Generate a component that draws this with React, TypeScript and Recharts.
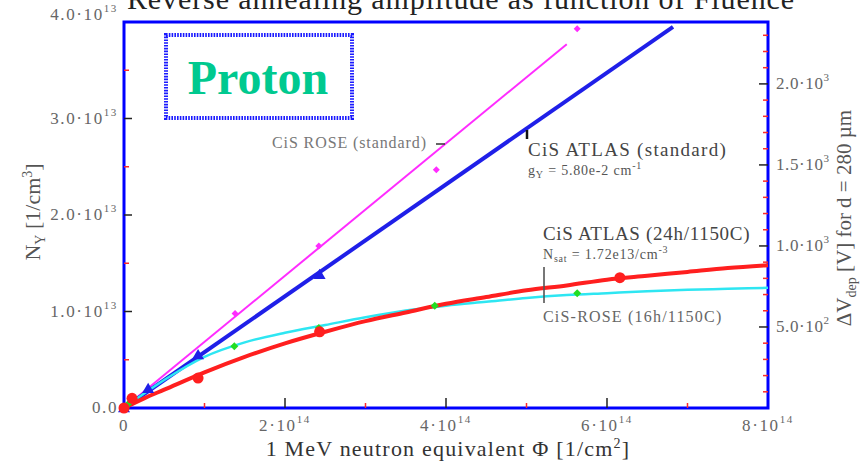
import { ComposedChart, Line, Scatter, XAxis, YAxis, ReferenceArea } from "recharts"

// fluence in units of 1e14 /cm², N_Y in units of 1e13 /cm³
const fitFluence = [0, 0.25, 0.5, 1, 1.5, 2, 2.5, 3, 3.5, 4, 4.5, 5, 5.5, 6, 6.5, 7, 7.5, 8]
const atlasAnnealedFit = [0, 0.1, 0.19, 0.37, 0.53, 0.67, 0.79, 0.9, 0.99, 1.08, 1.15, 1.22, 1.27, 1.33, 1.37, 1.41, 1.45, 1.48]
const roseAnnealedFit = [0, 0.15, 0.29, 0.53, 0.68, 0.78, 0.86, 0.94, 1.01, 1.06, 1.1, 1.14, 1.17, 1.19, 1.21, 1.225, 1.235, 1.245]

const roseStdFitFluence = [0, 5.5]
const roseStdFit = [0, 3.77]
const atlasStdFitFluence = [0, 6.82]
const atlasStdFit = [0, 3.95]

const roseStdFluence = [0.1, 1.38, 2.42, 3.88, 5.63]
const roseStdNy = [0.08, 0.98, 1.68, 2.47, 3.93]
const atlasStdFluence = [0, 0.3, 0.92, 2.43]
const atlasStdNy = [0, 0.2, 0.55, 1.38]
const atlasAnnFluence = [0, 0.1, 0.92, 2.43, 6.16]
const atlasAnnNy = [0, 0.1, 0.31, 0.79, 1.35]
const roseAnnFluence = [0.05, 1.37, 2.42, 3.86, 5.63]
const roseAnnNy = [0.04, 0.64, 0.83, 1.06, 1.19]

const xTicks = [0, 1, 2, 3, 4, 5, 6, 7, 8]
const xLabels: Record<number, [string, string]> = { 0: ["0", ""], 2: ["2·10", "14"], 4: ["4·10", "14"], 6: ["6·10", "14"], 8: ["8·10", "14"] }
const yTicks = [0, 0.5, 1, 1.5, 2, 2.5, 3, 3.5, 4]
const yLabels: Record<number, [string, string]> = { 0: ["0.0", ""], 1: ["1.0·10", "13"], 2: ["2.0·10", "13"], 3: ["3.0·10", "13"], 4: ["4.0·10", "13"] }
const vTicks = Array.from({ length: 23 }, (_, i) => (i + 1) * 100)
const vLabels: Record<number, [string, string]> = { 500: ["5.0·10", "2"], 1000: ["1.0·10", "3"], 1500: ["1.5·10", "3"], 2000: ["2.0·10", "3"] }
const vMax = 2382

const zip = (xs: number[], ys: number[]) => xs.map((x, i) => ({ x, y: ys[i] }))

const W = 866
const H = 462
// axes take 1px each, so the plot spans x 124..768, y 22..408
const margin = { top: 22, right: 97, bottom: 53, left: 123 }
const PLOT_LEFT = 124
const PLOT_RIGHT = 768
const PLOT_BOTTOM = 408

const SERIF = "'Liberation Serif', 'Times New Roman', serif"
const TICK_GREY = "#666"
const TICK_FONT = 17
const TICK_SPACING = 1.6

const Sup = ({ base, sup, size }: { base: string; sup: string; size: number }) => (
  <>
    <tspan>{base}</tspan>
    {sup && (
      <tspan dy={-size * 0.45} fontSize={size * 0.65}>
        {sup}
      </tspan>
    )}
  </>
)

const LeftTick = (props: any) => {
  const { y, payload } = props
  const v = payload.value
  const major = Number.isInteger(v)
  const lab = yLabels[v]
  return (
    <g>
      {v > 0 && v < 4 && (
        <line x1={PLOT_LEFT} x2={PLOT_LEFT + (major ? 8 : 5)} y1={y} y2={y} stroke={major ? "#222" : "#ff2a2a"} strokeWidth={1.5} />
      )}
      {lab && (
        <text x={PLOT_LEFT - 6} y={v === 4 ? y - 2 : y + 5} textAnchor="end" fontFamily={SERIF} fontSize={TICK_FONT} letterSpacing={TICK_SPACING} fill={TICK_GREY}>
          <Sup base={lab[0]} sup={lab[1]} size={TICK_FONT} />
        </text>
      )}
    </g>
  )
}

const BottomTick = (props: any) => {
  const { x, payload } = props
  const v = payload.value
  const major = v % 2 === 0
  const lab = xLabels[v]
  return (
    <g>
      {v > 0 && v < 8 && (
        <line x1={x} x2={x} y1={PLOT_BOTTOM} y2={PLOT_BOTTOM - (major ? 10 : 5)} stroke={major ? "#222" : "#ff2a2a"} strokeWidth={1.5} />
      )}
      {lab && (
        <text x={x} y={PLOT_BOTTOM + 23} textAnchor="middle" fontFamily={SERIF} fontSize={TICK_FONT} letterSpacing={TICK_SPACING} fill={TICK_GREY}>
          <Sup base={lab[0]} sup={lab[1]} size={TICK_FONT} />
        </text>
      )}
    </g>
  )
}

const RightTick = (props: any) => {
  const { y, payload } = props
  const v = payload.value
  const major = v % 500 === 0
  const lab = vLabels[v]
  return (
    <g>
      <line x1={PLOT_RIGHT} x2={PLOT_RIGHT - (major ? 9 : 5)} y1={y} y2={y} stroke={major ? "#222" : "#ff2a2a"} strokeWidth={1.5} />
      {lab && (
        <text x={PLOT_RIGHT + 8} y={y + 5} textAnchor="start" fontFamily={SERIF} fontSize={TICK_FONT} letterSpacing={0.6} fill={TICK_GREY}>
          <Sup base={lab[0]} sup={lab[1]} size={TICK_FONT} />
        </text>
      )}
    </g>
  )
}

const Dot = ({ cx, cy, r, fill }: any) => <circle cx={cx} cy={cy} r={r} fill={fill} />
const Diamond = ({ cx, cy, r, fill }: any) => (
  <polygon points={`${cx},${cy - r} ${cx + r},${cy} ${cx},${cy + r} ${cx - r},${cy}`} fill={fill} />
)
const Triangle = ({ cx, cy, r, fill }: any) => (
  <polygon points={`${cx},${cy - r} ${cx + r},${cy + r * 0.7} ${cx - r},${cy + r * 0.7}`} fill={fill} />
)

export default function App() {
  return (
    <div style={{ position: "relative", width: W, height: H, background: "#fff" }}>
      <style>{`body{margin:0}`}</style>
      <ComposedChart width={W} height={H} margin={margin}>
        <XAxis
          xAxisId={0}
          dataKey="x"
          type="number"
          domain={[0, 8]}
          ticks={xTicks}
          interval={0}
          height={1}
          axisLine={false}
          tickLine={false}
          tick={(p: any) => <BottomTick {...p} />}
        />
        <YAxis
          yAxisId="n"
          type="number"
          domain={[0, 4]}
          ticks={yTicks}
          interval={0}
          width={1}
          axisLine={false}
          tickLine={false}
          tick={(p: any) => <LeftTick {...p} />}
        />
        <YAxis
          yAxisId="v"
          orientation="right"
          type="number"
          domain={[0, vMax]}
          allowDataOverflow
          ticks={vTicks}
          interval={0}
          width={1}
          axisLine={false}
          tickLine={false}
          tick={(p: any) => <RightTick {...p} />}
        />

        <Line yAxisId="n" data={zip(roseStdFitFluence, roseStdFit)} dataKey="y" type="linear" stroke="#ff2cff" strokeWidth={2} dot={false} isAnimationActive={false} />
        <Line yAxisId="n" data={zip(atlasStdFitFluence, atlasStdFit)} dataKey="y" type="linear" stroke="#1f1fe8" strokeWidth={4} dot={false} isAnimationActive={false} />
        <Line yAxisId="n" data={zip(fitFluence, roseAnnealedFit)} dataKey="y" type="monotone" stroke="#2ee6f2" strokeWidth={2.5} dot={false} isAnimationActive={false} />
        <Line yAxisId="n" data={zip(fitFluence, atlasAnnealedFit)} dataKey="y" type="monotone" stroke="#ff1f1f" strokeWidth={4} dot={false} isAnimationActive={false} />

        <Scatter yAxisId="n" data={zip(roseStdFluence, roseStdNy)} dataKey="y" isAnimationActive={false} shape={(p: any) => <Diamond cx={p.cx} cy={p.cy} r={3.5} fill="#ff2cff" />} />
        <Scatter yAxisId="n" data={zip(atlasStdFluence, atlasStdNy)} dataKey="y" isAnimationActive={false} shape={(p: any) => <Triangle cx={p.cx} cy={p.cy} r={6} fill="#1f1fe8" />} />
        <Scatter yAxisId="n" data={zip(roseAnnFluence, roseAnnNy)} dataKey="y" isAnimationActive={false} shape={(p: any) => <Diamond cx={p.cx} cy={p.cy} r={4} fill="#22dd22" />} />
        <Scatter yAxisId="n" data={zip(atlasAnnFluence, atlasAnnNy)} dataKey="y" isAnimationActive={false} shape={(p: any) => <Dot cx={p.cx} cy={p.cy} r={5.5} fill="#ff1f1f" />} />

        <ReferenceArea yAxisId="n" x1={0} x2={8} y1={0} y2={4} fill="none" stroke="#0000ff" strokeWidth={3} ifOverflow="visible" />
      </ComposedChart>

      <svg width={W} height={H} style={{ position: "absolute", left: 0, top: 0, pointerEvents: "none" }} fontFamily={SERIF}>
        <text x={461} y={9} textAnchor="middle" fontSize={30} letterSpacing={0.9} fill="#222">
          Reverse annealing amplitude as function of Fluence
        </text>

        <text transform="translate(40,212) rotate(-90)" textAnchor="middle" fontSize={22} fill="#555">
          N<tspan dy={5} fontSize={14}>Y</tspan>
          <tspan dy={-5}> [1/cm</tspan>
          <tspan dy={-8} fontSize={14}>3</tspan>
          <tspan dy={8}>]</tspan>
        </text>
        <text transform="translate(851,218) rotate(-90)" textAnchor="middle" fontSize={21} fill="#555">
          ΔV<tspan dy={5} fontSize={14}>dep</tspan>
          <tspan dy={-5}> [V] for d = 280 µm</tspan>
        </text>
        <text x={448} y={456} textAnchor="middle" fontSize={22} letterSpacing={1.2} fill="#333">
          1 MeV neutron equivalent Φ [1/cm<tspan dy={-8} fontSize={14}>2</tspan>
          <tspan dy={8}>]</tspan>
        </text>

        <rect x={166} y={35} width={186} height={83} fill="none" stroke="#1a1aff" strokeWidth={4} strokeDasharray="1.6 1.2" />
        <text x={258} y={94} textAnchor="middle" fontSize={48} fontWeight="bold" fill="#00c98f">
          Proton
        </text>

        <text x={272} y={148} fontSize={16} letterSpacing={0.9} fill="#777">
          CiS ROSE (standard)
        </text>
        <line x1={436} x2={445} y1={144} y2={144} stroke="#333" strokeWidth={1.5} />

        <line x1={527} x2={527} y1={130} y2={139} stroke="#111" strokeWidth={2.5} />
        <text x={528} y={156} fontSize={19} letterSpacing={1.3} fill="#444">
          CiS ATLAS (standard)
        </text>
        <text x={528} y={175} fontSize={14} letterSpacing={0.8} fill="#555">
          g<tspan dy={3} fontSize={10}>Y</tspan>
          <tspan dy={-3}> = 5.80e-2 cm</tspan>
          <tspan dy={-6} fontSize={10}>-1</tspan>
        </text>

        <text x={543} y={240} fontSize={19} letterSpacing={0.7} fill="#444">
          CiS ATLAS (24h/1150C)
        </text>
        <text x={543} y={259} fontSize={14} letterSpacing={0.8} fill="#555">
          N<tspan dy={3} fontSize={10}>sat</tspan>
          <tspan dy={-3}> = 1.72e13/cm</tspan>
          <tspan dy={-6} fontSize={10}>-3</tspan>
        </text>
        <line x1={544} x2={544} y1={267} y2={303} stroke="#555" strokeWidth={1.6} />
        <text x={543} y={322} fontSize={16} letterSpacing={1.2} fill="#666">
          CiS-ROSE (16h/1150C)
        </text>
      </svg>
    </div>
  )
}
